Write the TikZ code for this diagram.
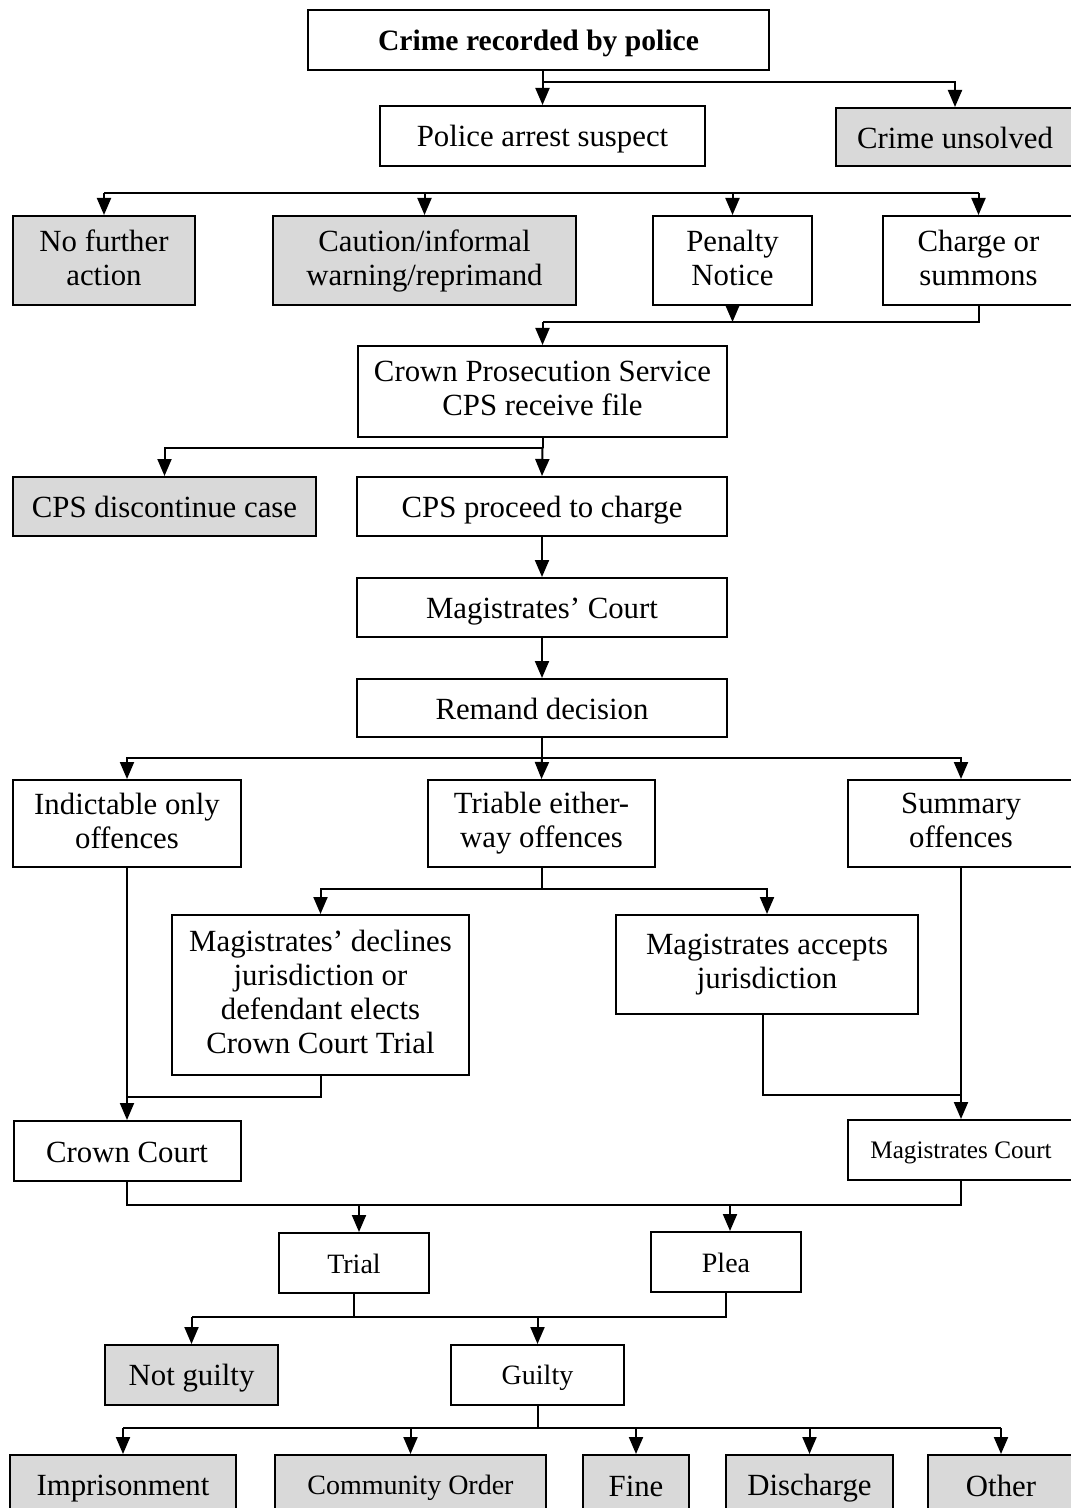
\documentclass[tikz,border=0pt]{standalone}
\usepackage{fontspec}
\setmainfont{Liberation Serif}
\usetikzlibrary{arrows.meta}
\definecolor{boxgray}{RGB}{217,217,217}
% invisible rule that fixes the height of the first line and the depth of the last
\newcommand\boxstrut{\rule[-0.19em]{0pt}{1.1em}}
\begin{document}
\begin{tikzpicture}[x=0.5pt,y=-0.5pt,
  box/.style={draw=black, line width=1pt, fill=white, align=center, inner sep=0pt,
              font=\fontsize{15.4}{17}\selectfont,
              execute at begin node=\boxstrut, execute at end node=\boxstrut},
  grey/.style={box, fill=boxgray},
  boldf/.style={font=\fontsize{14.8}{17}\selectfont\bfseries},
  small/.style={font=\fontsize{14}{16}\selectfont},
  smaller/.style={font=\fontsize{12.6}{15}\selectfont},
  line/.style={line width=1pt},
  arr/.style={line width=1pt, -{Triangle[length=8.5pt,width=7pt]}},
  ]
\useasboundingbox (0,0) rectangle (1070,1508);

% ---- boxes ----
\node[box, boldf, minimum width=230.5pt, minimum height=30pt] (crime) at (538.5,40) {Crime recorded by police};
\node[box, minimum width=162.5pt, minimum height=30pt] (arrest) at (542.5,136) {Police arrest suspect};
\node[grey, minimum width=119pt, minimum height=29pt] (unsolved) at (955,137) {Crime unsolved};

\node[grey, minimum width=91pt, minimum height=44.5pt] (nfa) at (104,260.5) {No further\\action};
\node[grey, minimum width=151.5pt, minimum height=44.5pt] (caution) at (424.5,260.5) {Caution/informal\\warning/reprimand};
\node[box, minimum width=79.5pt, minimum height=44.5pt] (penalty) at (732.5,260.5) {Penalty\\Notice};
\node[box, minimum width=95.5pt, minimum height=44.5pt] (charge) at (978.5,260.5) {Charge or\\summons};

\node[box, minimum width=184.5pt, minimum height=45.5pt] (cps) at (542.5,391.5) {Crown Prosecution Service\\CPS receive file};

\node[grey, minimum width=151.5pt, minimum height=29.5pt] (discont) at (164.5,506.5) {CPS discontinue case};
\node[box, minimum width=185pt, minimum height=29.5pt] (proceed) at (542,506.5) {CPS proceed to charge};
\node[box, minimum width=185pt, minimum height=29.5pt] (magct) at (542,607.5) {Magistrates’ Court};
\node[box, minimum width=185pt, minimum height=29pt] (remand) at (542,708) {Remand decision};

\node[box, minimum width=114pt, minimum height=43.5pt] (indict) at (127,823.5) {Indictable only\\offences};
\node[box, minimum width=113.5pt, minimum height=43.5pt] (triable) at (541.5,823.5) {Triable either-\\way offences};
\node[box, minimum width=113pt, minimum height=43.5pt] (summary) at (961,823.5) {Summary\\offences};

\node[box, minimum width=148.5pt, minimum height=80pt] (declines) at (320.5,995) {Magistrates’ declines\\jurisdiction or\\defendant elects\\Crown Court Trial};
\node[box, minimum width=151pt, minimum height=49.5pt] (accepts) at (767,964.5) {Magistrates accepts\\jurisdiction};

\node[box, minimum width=113.5pt, minimum height=30pt] (crownct) at (127,1151) {Crown Court};
\node[box, smaller, minimum width=113pt, minimum height=30pt] (magcourt) at (961,1150) {Magistrates Court};

\node[box, small, minimum width=75pt, minimum height=30pt] (trial) at (354,1263) {Trial};
\node[box, small, minimum width=75pt, minimum height=30pt] (plea) at (726,1262) {Plea};

\node[grey, minimum width=86.5pt, minimum height=30pt] (notguilty) at (191.5,1375) {Not guilty};
\node[box, small, minimum width=86.5pt, minimum height=30pt] (guilty) at (537.5,1375) {Guilty};

\node[grey, minimum width=113pt, minimum height=30pt] (imprison) at (123,1485) {Imprisonment};
\node[grey, small, minimum width=135.5pt, minimum height=30pt] (community) at (410.5,1485) {Community Order};
\node[grey, minimum width=53pt, minimum height=30pt] (fine) at (636,1485) {Fine};
\node[grey, minimum width=83.5pt, minimum height=30pt] (discharge) at (809.5,1485) {Discharge};
\node[grey, minimum width=73pt, minimum height=30pt] (other) at (1001,1485) {Other};

% ---- bus levels ----
\coordinate (b1) at (0,82);
\coordinate (b2) at (0,193);
\coordinate (b3) at (0,322);
\coordinate (b4) at (0,448);
\coordinate (b5) at (0,758);
\coordinate (b6) at (0,889);
\coordinate (b7) at (0,1097);
\coordinate (b7r) at (0,1095);
\coordinate (b8) at (0,1205);
\coordinate (b9) at (0,1317);
\coordinate (b10) at (0,1428);
\coordinate (ta) at ([xshift=2.5pt]trial.north);
\coordinate (pa) at ([xshift=2pt]plea.north);
\coordinate (as) at ([xshift=-2pt]accepts.south);

% ---- connectors ----
\draw[arr] (crime.south -| arrest.north) -- (arrest.north);
\draw[arr] (b1 -| arrest.north) -| (unsolved.north);

\draw[line] (b2 -| nfa.north) -- (b2 -| charge.north);
\draw[arr] (b2 -| nfa.north) -- (nfa.north);
\draw[arr] (b2 -| caution.north) -- (caution.north);
\draw[arr] (b2 -| penalty.north) -- (penalty.north);
\draw[arr] (b2 -| charge.north) -- (charge.north);

\draw[arr] (penalty.south) -- (b3 -| penalty.south);
\draw[line] (charge.south) |- (b3 -| cps.north);
\draw[arr] (b3 -| cps.north) -- (cps.north);

\draw[line] (cps.south) -- (b4 -| cps.south);
\draw[arr] (b4 -| cps.south) -| (discont.north);
\draw[arr] (b4 -| cps.south) -- (proceed.north);

\draw[arr] (proceed.south) -- (magct.north);
\draw[arr] (magct.south) -- (remand.north);

\draw[line] (remand.south) -- (b5 -| remand.south);
\draw[arr] (b5 -| remand.south) -| (indict.north);
\draw[arr] (b5 -| remand.south) -| (summary.north);
\draw[arr] (b5 -| remand.south) -- (triable.north);

\draw[line] (triable.south) -- (b6 -| triable.south);
\draw[arr] (b6 -| triable.south) -| (declines.north);
\draw[arr] (b6 -| triable.south) -| (accepts.north);

\draw[arr] (indict.south) -- (crownct.north);
\draw[line] (declines.south) |- (b7 -| indict.south);
\draw[arr] (summary.south) -- (magcourt.north);
\draw[line] (as) |- (b7r -| summary.south);

\draw[line] (crownct.south) |- (b8 -| magcourt.south) -- (magcourt.south);
\draw[arr] (b8 -| ta) -- (ta);
\draw[arr] (b8 -| pa) -- (pa);

\draw[line] (trial.south) -- (b9 -| trial.south);
\draw[line] (plea.south) |- (b9 -| notguilty.north);
\draw[arr] (b9 -| notguilty.north) -- (notguilty.north);
\draw[arr] (b9 -| guilty.north) -- (guilty.north);

\draw[line] (guilty.south) -- (b10 -| guilty.south);
\draw[line] (b10 -| imprison.north) -- (b10 -| other.north);
\draw[arr] (b10 -| imprison.north) -- (imprison.north);
\draw[arr] (b10 -| community.north) -- (community.north);
\draw[arr] (b10 -| fine.north) -- (fine.north);
\draw[arr] (b10 -| discharge.north) -- (discharge.north);
\draw[arr] (b10 -| other.north) -- (other.north);
\end{tikzpicture}
\end{document}
